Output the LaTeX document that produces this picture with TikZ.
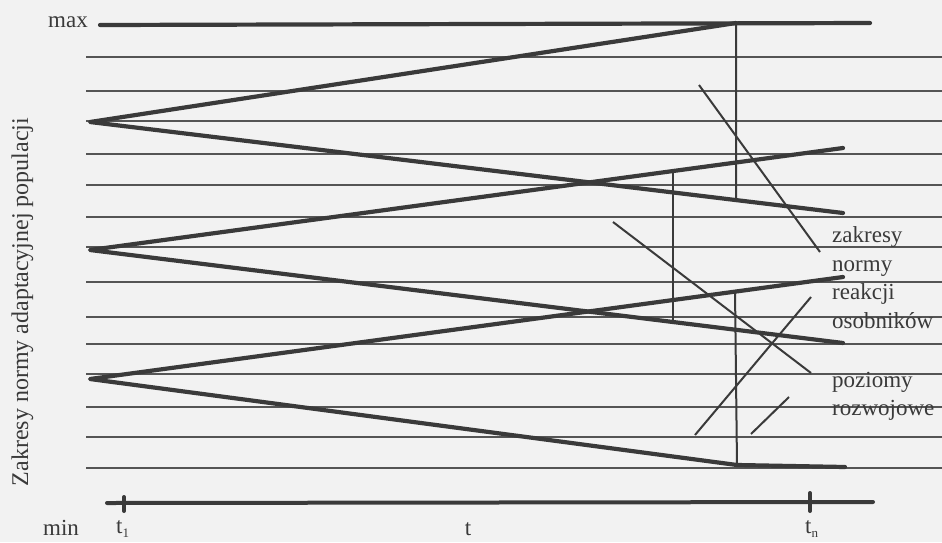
\documentclass[tikz,border=0pt]{standalone}
\usepackage{fontspec}
\setmainfont{Liberation Serif}
\usetikzlibrary{calc}
\definecolor{ink}{RGB}{58,58,58}
\definecolor{thinink}{RGB}{85,85,85}
\definecolor{paper}{RGB}{242,242,242}
\begin{document}
\begin{tikzpicture}[x=1pt,y=-1pt,
  grid/.style={draw=thinink,line width=1.3pt},
  arm/.style={draw=ink,line width=4.2pt,line join=round,line cap=round},
  vline/.style={draw=ink,line width=2pt},
  pointer/.style={draw=ink,line width=2pt},
  axisline/.style={draw=ink,line width=4pt,line cap=round},
  tick/.style={draw=ink,line width=4pt,line cap=round},
  lbl/.style={inner sep=0pt,text=ink,font=\fontsize{23}{23}\selectfont}]
\fill[paper] (0,0) rectangle (942,542);
\useasboundingbox (0,0) rectangle (942,542);
% thin level lines
\foreach \yy in {57,91,121,154,185,217,247,282,317,344,374,407,437,468}
  \draw[grid] (86,\yy) -- (942,\yy);
% max line
\coordinate (m0) at (100,25);
\coordinate (m1) at (870,23);
\draw[arm] (m0) -- (m1);
% triangle 1
\coordinate (a1) at (90,122);
\coordinate (u1) at (736,23);
\coordinate (l1) at (843,213);
\draw[arm] (u1) -- (a1) -- (l1);
% triangle 2
\coordinate (a2) at (90,250);
\coordinate (u2) at (843,148);
\coordinate (l2) at (843,343);
\draw[arm] (u2) -- (a2) -- (l2);
% triangle 3
\coordinate (a3) at (90,379);
\coordinate (u3) at (843,277);
\coordinate (l3) at (737,465);
\coordinate (e3) at (845,467);
\draw[arm] (u3) -- (a3) -- (l3) -- (e3);
% vertical spans
\coordinate (v1b) at ($(a1)!0.858!(l1)$);
\draw[vline] (u1) -- (v1b);
\coordinate (v2t) at ($(a2)!0.774!(u2)$);
\coordinate (v2b) at ($(a2)!0.774!(l2)$);
\draw[vline] (v2t) -- (v2b);
\coordinate (v3t) at ($(a3)!0.8566!(u3)$);
\draw[vline] (v3t) -- (l3);
% pointer lines
\coordinate (p1a) at (699,85);  \coordinate (p1b) at (820,252);
\coordinate (p2a) at (613,222); \coordinate (p2b) at (811,373);
\coordinate (p3a) at (695,435); \coordinate (p3b) at (811,297);
\coordinate (p4a) at (751,434); \coordinate (p4b) at (789,397);
\draw[pointer] (p1a) -- (p1b);
\draw[pointer] (p2a) -- (p2b);
\draw[pointer] (p3a) -- (p3b);
\draw[pointer] (p4a) -- (p4b);
% time axis
\coordinate (ax0) at (107,503);
\coordinate (ax1) at (873,502);
\draw[axisline] (ax0) -- (ax1);
\coordinate (k1a) at (124,497); \coordinate (k1b) at (124,511);
\coordinate (kna) at (810,493); \coordinate (knb) at (810,511);
\draw[tick] (k1a) -- (k1b);
\draw[tick] (kna) -- (knb);
% labels
\node[lbl,anchor=base east] (max) at (88,27) {max};
\node[lbl,anchor=base west] (min) at (43,535) {min};
\node[lbl,anchor=base west] (t1) at (116,533) {t\raisebox{-4pt}{\fontsize{13}{13}\selectfont 1}};
\node[lbl,anchor=base] (t) at (468,535) {t};
\node[lbl,anchor=base west] (tn) at (805,533) {t\raisebox{-4pt}{\fontsize{13}{13}\selectfont n}};
\node[lbl,anchor=base,rotate=90] (ylab) at (28,302) {\fontsize{24}{24}\selectfont Zakresy normy adaptacyjnej populacji};
\node[lbl,anchor=base west] (r1) at (832,242) {zakresy};
\node[lbl,anchor=base west] (r2) at (832,271) {normy};
\node[lbl,anchor=base west] (r3) at (832,299) {reakcji};
\node[lbl,anchor=base west] (r4) at (832,328) {osobników};
\node[lbl,anchor=base west] (r5) at (832,387) {poziomy};
\node[lbl,anchor=base west] (r6) at (832,415) {rozwojowe};
\end{tikzpicture}
\end{document}
